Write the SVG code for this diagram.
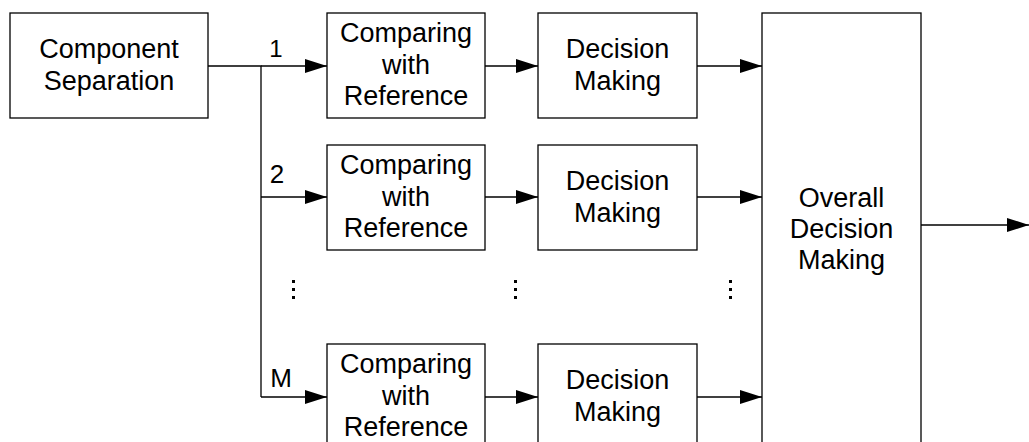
<svg xmlns="http://www.w3.org/2000/svg" width="1029" height="442" viewBox="0 0 1029 442">
  <style>
    .box { fill: #ffffff; stroke: #000000; stroke-width: 1.3; }
    .lbl { font-family: "Liberation Sans", Arial, sans-serif; font-size: 27px; fill: #000000; text-anchor: middle; }
    .num { font-family: "Liberation Sans", Arial, sans-serif; fill: #000000; text-anchor: middle; }
    .wire { fill: none; stroke: #000000; stroke-width: 1.3; }
    .dot { fill: #000000; }
  </style>
  <defs>
    <marker id="arrow" markerUnits="userSpaceOnUse" markerWidth="22" markerHeight="14" refX="22" refY="7" orient="auto">
      <path d="M0,0 L22,7 L0,14 z" fill="#000000"/>
    </marker>
  </defs>
  <rect width="1029" height="442" fill="#ffffff"/>

  <g id="connectors">
    <!-- splitter: component separation feeds the branch bus -->
    <path class="wire" d="M208,66 H261 V397"/>
    <path class="wire" d="M261,66 H327" marker-end="url(#arrow)"/>
    <path class="wire" d="M261,197 H327" marker-end="url(#arrow)"/>
    <path class="wire" d="M261,397 H327" marker-end="url(#arrow)"/>
    <!-- compare -> decide -->
    <path class="wire" d="M485,66 H538" marker-end="url(#arrow)"/>
    <path class="wire" d="M485,197 H538" marker-end="url(#arrow)"/>
    <path class="wire" d="M485,397 H538" marker-end="url(#arrow)"/>
    <!-- decide -> overall -->
    <path class="wire" d="M697,66 H762" marker-end="url(#arrow)"/>
    <path class="wire" d="M697,197 H762" marker-end="url(#arrow)"/>
    <path class="wire" d="M697,397 H762" marker-end="url(#arrow)"/>
    <!-- final output -->
    <path class="wire" d="M921,225 H1029" marker-end="url(#arrow)"/>
    <!-- branch labels -->
    <text class="num" x="276" y="57" font-size="24">1</text>
    <text class="num" x="277" y="183" font-size="26">2</text>
    <text class="num" x="281" y="387" font-size="26">M</text>
  </g>

  <g id="ellipsis">
    <rect class="dot" x="292" y="280" width="3" height="3"/>
    <rect class="dot" x="292" y="288" width="3" height="3"/>
    <rect class="dot" x="292" y="296" width="3" height="3"/>
    <rect class="dot" x="514" y="280" width="3" height="3"/>
    <rect class="dot" x="514" y="288" width="3" height="3"/>
    <rect class="dot" x="514" y="296" width="3" height="3"/>
    <rect class="dot" x="729" y="280" width="3" height="3"/>
    <rect class="dot" x="729" y="288" width="3" height="3"/>
    <rect class="dot" x="729" y="296" width="3" height="3"/>
  </g>

  <g id="separation">
    <rect class="box" x="10" y="13" width="198" height="105"/>
    <text class="lbl" x="109" y="58">Component</text>
    <text class="lbl" x="109" y="90">Separation</text>
  </g>

  <g id="compare-1">
    <rect class="box" x="327" y="13" width="158" height="105"/>
    <text class="lbl" x="406" y="42">Comparing</text>
    <text class="lbl" x="406" y="73.5">with</text>
    <text class="lbl" x="406" y="105">Reference</text>
  </g>
  <g id="compare-2">
    <rect class="box" x="327" y="145" width="158" height="105"/>
    <text class="lbl" x="406" y="174">Comparing</text>
    <text class="lbl" x="406" y="205.5">with</text>
    <text class="lbl" x="406" y="237">Reference</text>
  </g>
  <g id="compare-m">
    <rect class="box" x="327" y="344" width="158" height="105"/>
    <text class="lbl" x="406" y="373">Comparing</text>
    <text class="lbl" x="406" y="404.5">with</text>
    <text class="lbl" x="406" y="436">Reference</text>
  </g>

  <g id="decide-1">
    <rect class="box" x="538" y="13" width="159" height="105"/>
    <text class="lbl" x="617.5" y="58">Decision</text>
    <text class="lbl" x="617.5" y="90">Making</text>
  </g>
  <g id="decide-2">
    <rect class="box" x="538" y="145" width="159" height="105"/>
    <text class="lbl" x="617.5" y="190">Decision</text>
    <text class="lbl" x="617.5" y="222">Making</text>
  </g>
  <g id="decide-m">
    <rect class="box" x="538" y="344" width="159" height="105"/>
    <text class="lbl" x="617.5" y="389">Decision</text>
    <text class="lbl" x="617.5" y="421">Making</text>
  </g>

  <g id="overall">
    <rect class="box" x="762" y="13" width="159" height="440"/>
    <text class="lbl" x="841.5" y="207">Overall</text>
    <text class="lbl" x="841.5" y="238">Decision</text>
    <text class="lbl" x="841.5" y="269">Making</text>
  </g>
</svg>
